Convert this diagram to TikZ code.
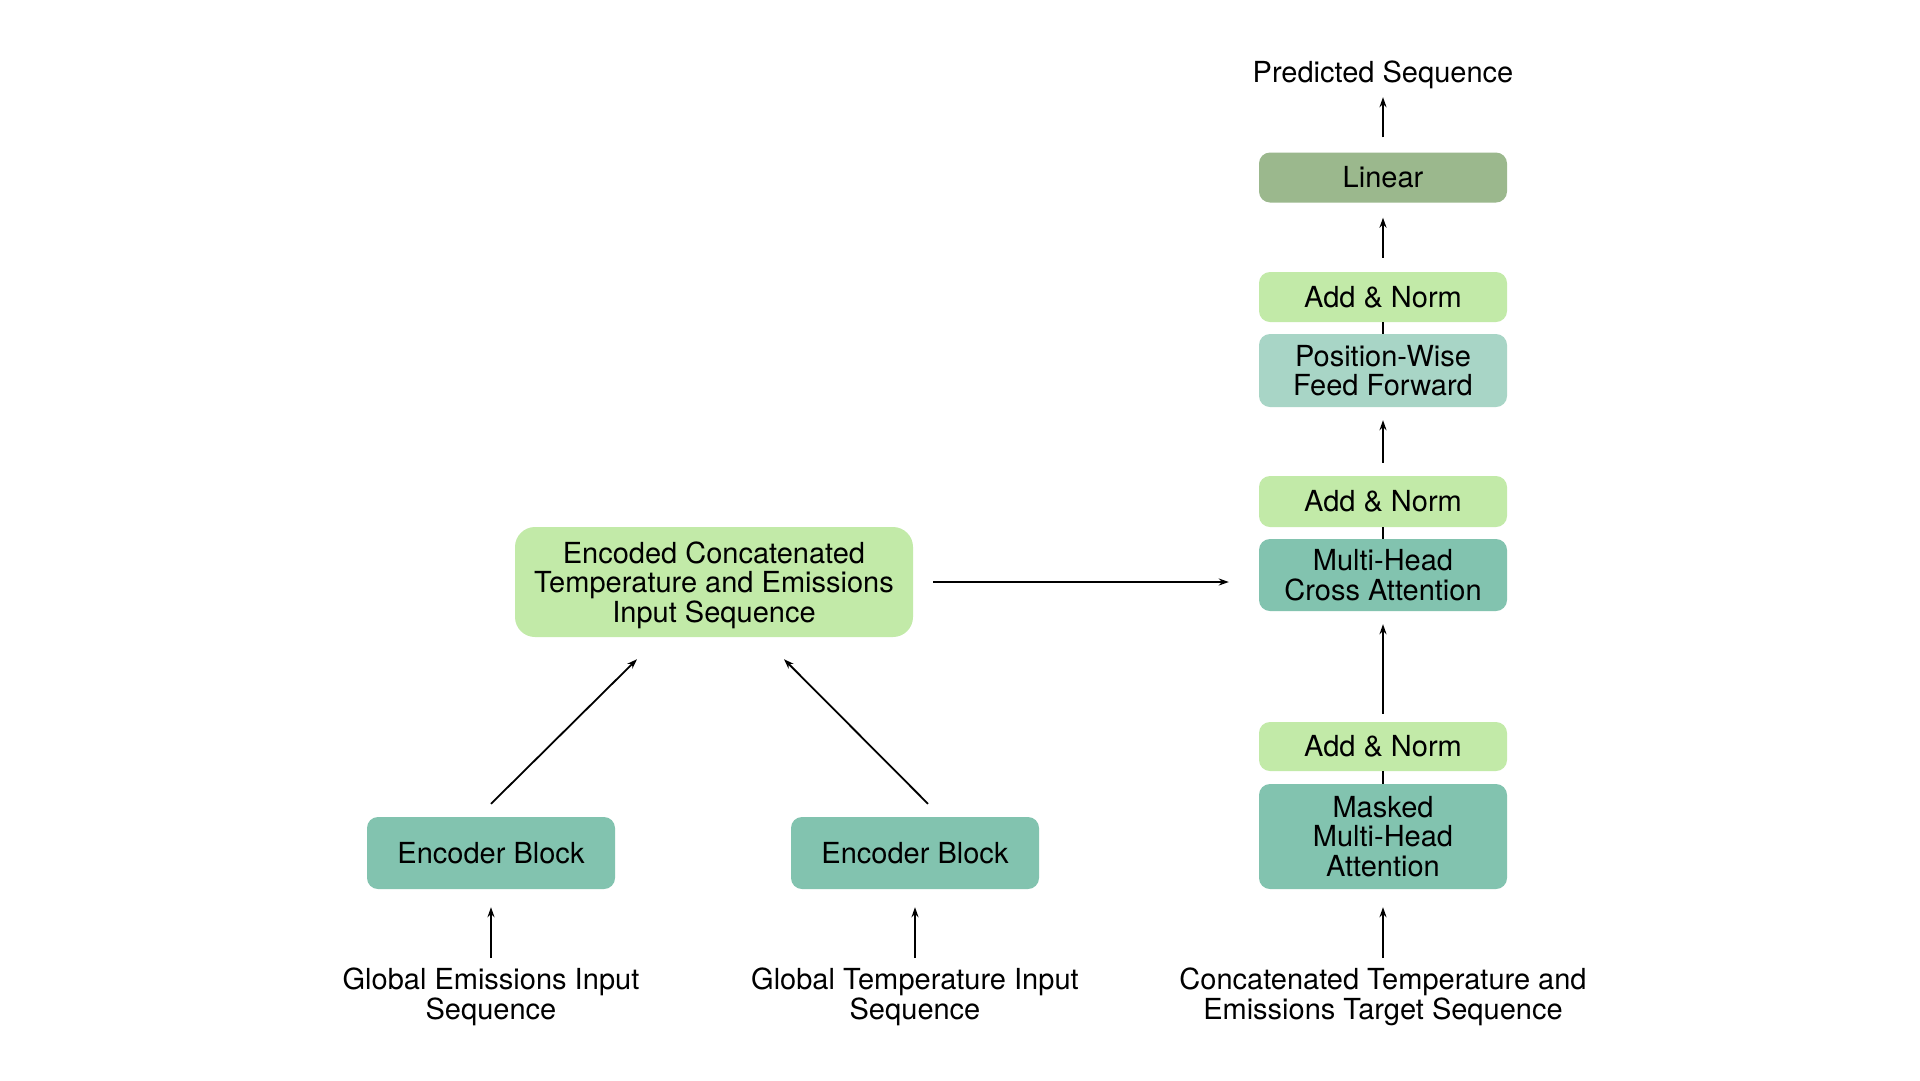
\documentclass[tikz,border=0pt]{standalone}
\usepackage{fontspec}
\setmainfont{TeX Gyre Heros}
\usetikzlibrary{arrows.meta,calc}
\definecolor{linearC}{HTML}{9BB88D}
\definecolor{addC}{HTML}{C2EAA8}
\definecolor{ffC}{HTML}{A8D5C6}
\definecolor{attC}{HTML}{82C3AF}
\begin{document}
\begin{tikzpicture}[x=1pt,y=-1pt,
  box/.style={rounded corners=11pt, minimum width=248pt, inner sep=0pt, align=center,
    font=\fontsize{29}{29.5}\selectfont},
  lbl/.style={align=center, inner sep=0pt, font=\fontsize{29}{29.5}\selectfont},
  arr/.style={-{Stealth[length=10pt,width=7pt]}, line width=1.8pt},
  ln/.style={line width=1.8pt}]
\useasboundingbox[fill=white] (0,0) rectangle (1920,1080);

% decoder column
\node[lbl] (pred) at (1383,75) {Predicted Sequence};
\node[box, fill=linearC, minimum height=50pt] (linear) at (1383,177.5) {Linear};
\node[box, fill=addC, minimum height=50pt] (an1) at (1383,297) {Add \& Norm};
\node[box, fill=ffC, minimum height=73pt] (pwff) at (1383,370.5) {Position-Wise\\Feed Forward};
\node[box, fill=addC, minimum height=51pt] (an2) at (1383,501.5) {Add \& Norm};
\node[box, fill=attC, minimum height=72pt] (cross) at (1383,575) {Multi-Head\\Cross Attention};
\node[box, fill=addC, minimum height=49pt] (an3) at (1383,746.5) {Add \& Norm};
\node[box, fill=attC, minimum height=105pt] (masked) at (1383,836.5) {Masked\\Multi-Head\\Attention};
\node[lbl] (target) at (1383,997) {Concatenated Temperature and\\Emissions Target Sequence};

% encoder side
\node[box, fill=addC, minimum width=398pt, minimum height=110pt, rounded corners=20pt,
  label={[lbl, yshift=-3pt]center:{Encoded Concatenated\\Temperature and Emissions\\Input Sequence}}] (enc) at (714,582) {};
\node[box, fill=attC, minimum height=72pt] (eb1) at (491,853) {Encoder Block};
\node[box, fill=attC, minimum height=72pt] (eb2) at (915,853) {Encoder Block};
\node[lbl] (src1) at (491,997) {Global Emissions Input\\Sequence};
\node[lbl] (src2) at (915,997) {Global Temperature Input\\Sequence};

% connectors
\draw[arr] ($(linear.north)+(0,-15)$) -- ($(pred.south)+(0,8)$);
\draw[arr] ($(an1.north)+(0,-14)$) -- ($(linear.south)+(0,15)$);
\draw[ln] (pwff.north) -- (an1.south);
\draw[arr] ($(an2.north)+(0,-13)$) -- ($(pwff.south)+(0,13)$);
\draw[ln] (cross.north) -- (an2.south);
\draw[arr] ($(an3.north)+(0,-8)$) -- ($(cross.south)+(0,13)$);
\draw[ln] (masked.north) -- (an3.south);
\draw[arr] ($(target.north)+(0,-10)$) -- ($(masked.south)+(0,18)$);

\draw[arr] ($(src1.north)+(0,-10)$) -- ($(eb1.south)+(0,18)$);
\draw[arr] ($(src2.north)+(0,-10)$) -- ($(eb2.south)+(0,18)$);
\draw[arr] ($(eb1.north)+(0,-13)$) -- ($(enc.south)+(-77,22)$);
\draw[arr] ($(eb2.north)+(13,-13)$) -- ($(enc.south)+(70,22)$);
\draw[arr] ($(enc.east)+(20,0)$) -- ($(cross.west |- enc.east)+(-30,0)$);
\end{tikzpicture}
\end{document}
